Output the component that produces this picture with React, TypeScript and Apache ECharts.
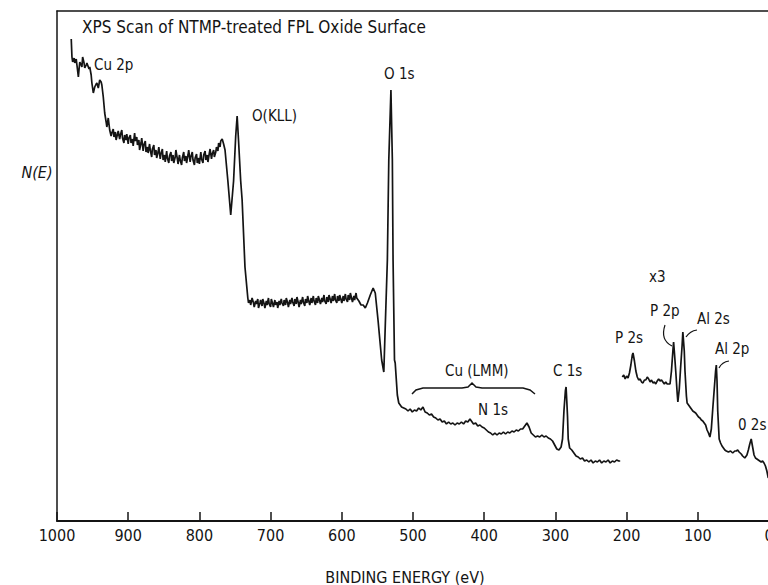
import React, { useEffect, useRef } from "react";
import * as echarts from "echarts";

// Binding energy (eV) vs N(E) (arbitrary units)
const cu2pRegion: [number, number][] = [
  [980, 482], [979, 464], [978, 459], [976, 463], [975, 458], [973, 462], [972, 456], [970, 444],
  [969, 452], [968, 459], [966, 456], [965, 454], [964, 464], [962, 458], [961, 453], [959, 456],
  [958, 458], [957, 456], [955, 452], [954, 454], [952, 446], [951, 438], [949, 428], [948, 431],
  [947, 434], [945, 437], [944, 438], [942, 433], [941, 437], [940, 441], [938, 439], [937, 436],
  [935, 424], [933, 408], [931, 399], [930, 394], [928, 403], [926, 391], [924, 385], [923, 388],
  [921, 392], [920, 384], [918, 389], [917, 381], [915, 387], [914, 390], [912, 382], [911, 386],
  [909, 391], [908, 383], [906, 378], [905, 386], [903, 381], [902, 387], [900, 377], [899, 383],
  [897, 386], [896, 378], [894, 382], [893, 375], [891, 388], [890, 380], [888, 384], [887, 376],
  [885, 381], [884, 371], [882, 378], [881, 383], [879, 370], [878, 376], [876, 380], [875, 369],
  [873, 374], [872, 368], [870, 377], [869, 371], [867, 364], [866, 372], [864, 376], [863, 366],
  [861, 371], [860, 363], [858, 369], [857, 374], [855, 362], [854, 367], [852, 372], [851, 361],
  [849, 366], [848, 359], [846, 370], [845, 363], [843, 358], [842, 365], [840, 369], [839, 360],
  [837, 366], [836, 358], [834, 364], [833, 371], [831, 362], [830, 357], [828, 366], [827, 361],
  [825, 356], [824, 363], [822, 369], [821, 360], [819, 365], [818, 358], [816, 366], [815, 371],
  [813, 359], [812, 364], [810, 369], [809, 361], [807, 356], [806, 363], [804, 367], [803, 358],
  [801, 363], [800, 357], [798, 369], [797, 362], [795, 358], [794, 366], [792, 370], [791, 361],
  [789, 366], [788, 359], [786, 368], [785, 372], [783, 362], [782, 367], [780, 371], [779, 364],
  [777, 369], [776, 374], [774, 370], [773, 378], [771, 374], [770, 380], [768, 382], [766, 377],
  [764, 371],
];

const oxygenRegion: [number, number][] = [
  [760, 340], [756, 306], [752, 340], [749, 385], [747, 405], [745, 380], [742, 340], [740, 321],
  [736, 254], [732, 223], [731, 218], [729, 221], [728, 216], [726, 223], [724, 218], [723, 214],
  [721, 220], [720, 217], [718, 222], [717, 213], [715, 218], [714, 221], [712, 215], [711, 222],
  [709, 217], [708, 213], [706, 220], [705, 216], [703, 223], [702, 217], [700, 214], [699, 222],
  [697, 217], [696, 214], [694, 221], [693, 216], [691, 219], [690, 213], [688, 220], [687, 216],
  [685, 222], [684, 218], [682, 215], [681, 221], [679, 216], [678, 223], [676, 218], [675, 214],
  [673, 221], [672, 217], [670, 223], [669, 219], [667, 215], [666, 222], [664, 217], [663, 224],
  [661, 218], [660, 214], [658, 221], [657, 217], [655, 224], [654, 219], [652, 215], [651, 222],
  [649, 218], [648, 225], [646, 219], [645, 216], [643, 223], [642, 218], [640, 225], [639, 220],
  [637, 216], [636, 223], [634, 218], [633, 225], [631, 220], [630, 217], [628, 223], [627, 219],
  [625, 226], [624, 220], [622, 217], [621, 224], [619, 219], [618, 226], [616, 221], [615, 218],
  [613, 225], [612, 220], [610, 227], [609, 221], [607, 218], [606, 225], [604, 220], [603, 226],
  [601, 221], [600, 218], [598, 225], [597, 220], [595, 227], [594, 222], [592, 219], [591, 226],
  [589, 221], [588, 228], [586, 222], [585, 219], [583, 225], [582, 221], [580, 228], [579, 223],
  [576, 220], [573, 216], [570, 216], [567, 213], [564, 218], [560, 226], [556, 233], [553, 228],
  [549, 200], [544, 161], [541, 149], [539, 194], [536, 261], [534, 361], [531, 431], [529, 361],
  [528, 261], [526, 161], [525, 158], [522, 126], [520, 118], [516, 114],
];

const cuLmmRegion: [number, number][] = [
  [513, 113], [510, 112], [507, 110], [504, 112], [501, 109], [498, 111], [495, 110], [492, 113],
  [489, 111], [486, 114], [483, 109], [480, 108], [477, 106], [474, 107], [471, 104], [468, 103],
  [465, 101], [462, 102], [459, 99], [456, 100], [453, 97], [450, 99], [447, 97], [444, 98],
  [441, 96], [438, 98], [435, 97], [432, 99], [429, 97], [426, 100], [423, 99], [420, 102],
  [418, 100], [415, 97], [412, 98], [409, 95], [406, 96], [403, 94], [400, 93], [397, 91],
  [394, 89], [391, 88], [388, 86], [385, 88], [382, 86], [379, 88], [376, 87], [373, 89],
  [370, 87], [367, 89], [364, 88], [361, 90], [358, 89], [355, 91], [352, 90], [349, 92],
  [346, 92], [343, 95], [340, 98], [337, 94], [334, 88], [331, 86], [328, 84], [325, 85],
  [322, 84], [319, 86], [316, 84], [313, 85], [310, 83], [307, 82], [304, 80], [301, 76],
  [298, 72], [295, 71], [292, 74], [290, 82], [288, 110], [286, 130], [285, 134], [284, 120],
  [283, 105], [282, 82], [280, 73], [277, 71], [274, 68], [271, 65], [268, 64], [265, 62],
  [262, 63], [259, 60], [256, 61], [253, 59], [250, 61], [247, 58], [244, 60], [241, 59],
  [238, 61], [235, 58], [232, 60], [229, 59], [226, 61], [223, 58], [220, 60], [217, 59],
  [214, 61], [211, 60], [209, 60],
];

// low binding-energy region recorded at x3 sensitivity
const x3Region: [number, number][] = [
  [206, 144], [204, 146], [202, 142], [200, 145], [198, 143], [196, 148], [194, 156], [192, 166],
  [191, 168], [189, 160], [187, 150], [185, 144], [183, 141], [181, 142], [179, 139], [177, 138],
  [175, 141], [173, 141], [171, 144], [169, 142], [167, 139], [165, 141], [163, 138], [161, 139],
  [159, 137], [157, 140], [155, 142], [153, 140], [151, 141], [149, 139], [147, 137], [145, 139],
  [143, 137], [141, 137], [139, 137], [137, 150], [135, 170], [134, 179], [133, 170], [131, 150],
  [129, 128], [128, 119], [126, 132], [124, 155], [122, 176], [121, 189], [119, 170], [118, 150],
  [116, 125], [115, 118], [113, 116], [111, 114], [109, 112], [107, 110], [105, 109], [103, 108],
  [101, 106], [99, 104], [97, 103], [95, 101], [93, 100], [91, 98], [89, 96], [87, 91],
  [85, 88], [83, 84], [81, 92], [79, 112], [77, 131], [75, 150], [74, 156], [73, 140],
  [72, 110], [70, 82], [68, 78], [66, 75], [64, 73], [62, 71], [60, 70], [57, 69],
  [54, 70], [51, 68], [48, 70], [46, 70], [44, 71], [42, 69], [39, 67], [37, 65],
  [34, 63], [31, 66], [29, 71], [27, 77], [25, 82], [23, 74], [21, 66], [19, 63],
  [17, 62], [15, 61], [13, 60], [11, 59], [9, 60], [7, 58], [5, 55], [3, 50], [1, 43],
];

const xTickLabels = ["0", "100", "200", "300", "400", "500", "600", "700", "800", "900", "1000"];

const titleText = "XPS Scan of NTMP-treated FPL Oxide Surface";
const xAxisTitle = "BINDING ENERGY (eV)";
const yAxisTitle = "N(E)";

const peakLabels = [
  { text: "Cu 2p", x: 94, y: 65 },
  { text: "O(KLL)", x: 252, y: 116 },
  { text: "O 1s", x: 384, y: 74 },
  { text: "Cu (LMM)", x: 445, y: 371 },
  { text: "N 1s", x: 478, y: 410 },
  { text: "C 1s", x: 553, y: 371 },
  { text: "x3", x: 649, y: 277 },
  { text: "P 2p", x: 650, y: 311 },
  { text: "Al 2s", x: 697, y: 319 },
  { text: "P 2s", x: 615, y: 338 },
  { text: "Al 2p", x: 715, y: 349 },
  { text: "0 2s", x: 738, y: 425 },
];

const FONT = '"Liberation Sans Narrow", "DejaVu Sans Condensed", "Roboto Condensed", "Arial Narrow", sans-serif';
const INK = "#141414";

export default function App() {
  const ref = useRef<HTMLDivElement>(null);

  useEffect(() => {
    if (!ref.current) return;
    const chart = echarts.init(ref.current, undefined, { renderer: "svg" });
    const mainTrace = [...cu2pRegion, ...oxygenRegion, ...cuLmmRegion];

    const labelGraphics = peakLabels.map((l) => ({
      type: "text",
      style: {
        text: l.text,
        x: l.x,
        y: l.y,
        font: `15px ${FONT}`,
        fill: INK,
        textAlign: "left",
        textVerticalAlign: "middle",
      },
    }));

    chart.setOption({
      animation: false,
      backgroundColor: "#ffffff",
      grid: {
        left: 57,
        top: 11,
        width: 712,
        height: 510,
        containLabel: false,
        outerBoundsMode: "none",
      },
      xAxis: [
        {
          type: "value",
          min: 0,
          max: 1000,
          interval: 100,
          inverse: true,
          position: "bottom",
          axisLine: { show: true, onZero: false, lineStyle: { color: INK, width: 2 } },
          axisTick: { show: true, inside: true, length: 9, lineStyle: { color: INK, width: 1.5 } },
          splitLine: { show: false },
          axisLabel: {
            show: true,
            margin: 6,
            fontSize: 16,
            fontFamily: FONT,
            color: INK,
            formatter: (v: number) => xTickLabels[Math.round(v / 100)] ?? String(v),
          },
        },
        {
          type: "value",
          min: 0,
          max: 1000,
          inverse: true,
          position: "top",
          axisLine: { show: true, onZero: false, lineStyle: { color: INK, width: 1.5 } },
          axisTick: { show: false },
          axisLabel: { show: false },
          splitLine: { show: false },
        },
      ],
      yAxis: {
        type: "value",
        min: 0,
        max: 510,
        position: "left",
        axisLine: { show: true, onZero: false, lineStyle: { color: INK, width: 1.5 } },
        axisTick: { show: false },
        axisLabel: { show: false },
        splitLine: { show: false },
      },
      series: [
        {
          type: "line",
          data: mainTrace,
          showSymbol: false,
          symbol: "none",
          lineStyle: { color: INK, width: 1.7 },
          silent: true,
        },
        {
          type: "line",
          data: x3Region,
          showSymbol: false,
          symbol: "none",
          lineStyle: { color: INK, width: 1.7 },
          silent: true,
        },
      ],
      graphic: [
        {
          type: "text",
          style: {
            text: titleText,
            x: 82,
            y: 27,
            font: `17px ${FONT}`,
            fill: INK,
            textAlign: "left",
            textVerticalAlign: "middle",
          },
        },
        {
          type: "text",
          style: {
            text: yAxisTitle,
            x: 37,
            y: 172,
            font: `italic 16px ${FONT}`,
            fill: INK,
            textAlign: "center",
            textVerticalAlign: "middle",
          },
        },
        {
          type: "text",
          style: {
            text: xAxisTitle,
            x: 405,
            y: 577,
            font: `16px ${FONT}`,
            fill: INK,
            textAlign: "center",
            textVerticalAlign: "middle",
          },
        },
        ...labelGraphics,
        {
          type: "polyline",
          shape: {
            points: [
              [412, 394], [416, 390], [423, 388], [462, 388], [468, 387], [472, 383],
              [476, 387], [482, 388], [523, 388], [530, 390], [535, 394],
            ],
          },
          style: { stroke: INK, lineWidth: 1.5, fill: "none" },
        },
        {
          type: "bezierCurve",
          shape: { x1: 665, y1: 325, cpx1: 660, cpy1: 340, x2: 672, y2: 346 },
          style: { stroke: INK, lineWidth: 1.2, fill: "none" },
        },
        {
          type: "bezierCurve",
          shape: { x1: 697, y1: 330, cpx1: 690, cpy1: 331, x2: 686, y2: 337 },
          style: { stroke: INK, lineWidth: 1.2, fill: "none" },
        },
        {
          type: "bezierCurve",
          shape: { x1: 729, y1: 361, cpx1: 722, cpy1: 362, x2: 719, y2: 368 },
          style: { stroke: INK, lineWidth: 1.2, fill: "none" },
        },
      ],
    });

    return () => chart.dispose();
  }, []);

  return (
    <div
      ref={ref}
      style={{ position: "fixed", left: 0, top: 0, width: 768, height: 585, background: "#fff" }}
    />
  );
}
